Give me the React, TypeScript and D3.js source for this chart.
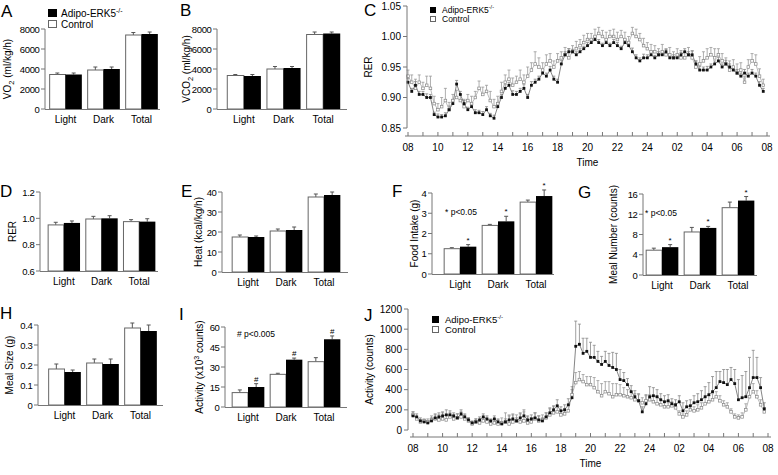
import React from "react";
import * as d3 from "d3";

const FONT = "'Liberation Sans', Arial, sans-serif";
const AXIS = "#777";

const GROUPS = ["Light", "Dark", "Total"];

// A: VO2
const vo2Ctrl = [3450, 3900, 7400];
const vo2Ko = [3450, 4000, 7500];
const vo2CtrlErr = [150, 300, 250];
const vo2KoErr = [150, 200, 200];
// B: VCO2
const vco2Ctrl = [3350, 4000, 7450];
const vco2Ko = [3300, 4100, 7550];
const vco2CtrlErr = [100, 250, 250];
const vco2KoErr = [150, 150, 150];
// D: RER
const rerBarCtrl = [0.95, 0.995, 0.975];
const rerBarKo = [0.965, 1.0, 0.975];
const rerBarCtrlErr = [0.02, 0.02, 0.015];
const rerBarKoErr = [0.015, 0.02, 0.022];
// E: heat
const heatCtrl = [17.5, 20.5, 37.5];
const heatKo = [17.5, 21, 38.5];
const heatCtrlErr = [1, 1, 1.5];
const heatKoErr = [0.5, 1.5, 1.5];
// F: food intake
const foodCtrl = [1.25, 2.4, 3.55];
const foodKo = [1.35, 2.6, 3.85];
const foodCtrlErr = [0.05, 0.05, 0.1];
const foodKoErr = [0.1, 0.25, 0.3];
// G: meal number
const mealNCtrl = [4.9, 8.5, 13.3];
const mealNKo = [5.5, 9.3, 14.7];
const mealNCtrlErr = [0.4, 0.9, 1.1];
const mealNKoErr = [0.5, 0.3, 0.8];
// H: meal size
const mealSCtrl = [0.18, 0.21, 0.385];
const mealSKo = [0.165, 0.205, 0.37];
const mealSCtrlErr = [0.025, 0.02, 0.025];
const mealSKoErr = [0.01, 0.025, 0.03];
// I: activity totals (x10^3)
const actBarCtrl = [10.8, 24.5, 34];
const actBarKo = [15, 35.5, 50.8];
const actBarCtrlErr = [2, 0.8, 3];
const actBarKoErr = [2.5, 1.2, 2.5];

// time course, 15 min bins from 08:00
const TIME_LABELS = ["08", "10", "12", "14", "16", "18", "20", "22", "24", "02", "04", "06", "08"];

const rerKo = [
  0.925, 0.91, 0.92, 0.905, 0.905, 0.9, 0.9, 0.872, 0.868, 0.868, 0.87, 0.88,
  0.89, 0.922, 0.905, 0.89, 0.88, 0.885, 0.875, 0.875, 0.872, 0.88, 0.87, 0.866,
  0.885, 0.9, 0.915, 0.92, 0.905, 0.905, 0.91, 0.915, 0.9, 0.92, 0.925, 0.93,
  0.94, 0.935, 0.945, 0.93, 0.925, 0.955, 0.97, 0.975, 0.975, 0.97, 0.975, 0.98,
  0.985, 0.99, 0.995, 0.99, 0.985, 0.99, 0.985, 0.99, 0.985, 0.98, 0.99, 0.985,
  0.975, 0.965, 0.96, 0.965, 0.965, 0.97, 0.965, 0.97, 0.97, 0.975, 0.965, 0.965,
  0.965, 0.97, 0.975, 0.97, 0.97, 0.955, 0.945, 0.945, 0.945, 0.95, 0.955, 0.96,
  0.95, 0.955, 0.95, 0.945, 0.94, 0.935, 0.94, 0.935, 0.94, 0.935, 0.92, 0.91,
];
const rerKoErr = [
  0.006, 0.005, 0.006, 0.005, 0.005, 0.006, 0.005, 0.004, 0.005, 0.004, 0.005, 0.006,
  0.005, 0.006, 0.005, 0.005, 0.004, 0.005, 0.005, 0.004, 0.005, 0.005, 0.004, 0.005,
  0.006, 0.005, 0.006, 0.005, 0.006, 0.005, 0.005, 0.006, 0.005, 0.006, 0.005, 0.005,
  0.006, 0.005, 0.006, 0.005, 0.005, 0.006, 0.005, 0.005, 0.004, 0.005, 0.005, 0.004,
  0.005, 0.004, 0.005, 0.005, 0.004, 0.005, 0.004, 0.005, 0.005, 0.004, 0.005, 0.005,
  0.006, 0.005, 0.005, 0.006, 0.005, 0.005, 0.004, 0.005, 0.005, 0.004, 0.005, 0.005,
  0.005, 0.004, 0.005, 0.005, 0.006, 0.005, 0.006, 0.005, 0.006, 0.005, 0.005, 0.006,
  0.005, 0.006, 0.005, 0.005, 0.006, 0.005, 0.006, 0.005, 0.006, 0.005, 0.006, 0.005,
];
const rerCtrl = [
  0.935, 0.925, 0.915, 0.925, 0.915, 0.92, 0.915, 0.89, 0.88, 0.885, 0.895, 0.88,
  0.895, 0.9, 0.895, 0.885, 0.895, 0.89, 0.9, 0.915, 0.905, 0.91, 0.895, 0.885,
  0.89, 0.91, 0.925, 0.93, 0.92, 0.925, 0.93, 0.925, 0.935, 0.945, 0.955, 0.95,
  0.945, 0.955, 0.96, 0.95, 0.96, 0.965, 0.97, 0.965, 0.975, 0.98, 0.985, 0.99,
  0.995, 0.995, 1.0, 1.005, 1.0, 0.995, 1.0, 1.0, 0.995, 1.0, 0.995, 0.99,
  1.005, 1.0, 0.995, 0.985, 0.98, 0.975, 0.975, 0.97, 0.975, 0.97, 0.97, 0.965,
  0.97, 0.965, 0.965, 0.97, 0.965, 0.95, 0.955, 0.96, 0.965, 0.97, 0.965, 0.97,
  0.96, 0.955, 0.945, 0.95, 0.94, 0.945, 0.925, 0.95, 0.96, 0.955, 0.935, 0.92,
];
const rerCtrlErr = [
  0.01, 0.012, 0.015, 0.012, 0.01, 0.015, 0.02, 0.012, 0.01, 0.015, 0.02, 0.012,
  0.01, 0.012, 0.01, 0.012, 0.01, 0.012, 0.01, 0.012, 0.012, 0.01, 0.015, 0.012,
  0.012, 0.015, 0.012, 0.015, 0.012, 0.01, 0.015, 0.012, 0.015, 0.012, 0.02, 0.015,
  0.012, 0.015, 0.012, 0.01, 0.012, 0.01, 0.012, 0.015, 0.01, 0.012, 0.01, 0.012,
  0.01, 0.01, 0.012, 0.01, 0.01, 0.012, 0.01, 0.012, 0.012, 0.01, 0.012, 0.01,
  0.01, 0.012, 0.01, 0.012, 0.01, 0.012, 0.01, 0.01, 0.012, 0.01, 0.012, 0.01,
  0.01, 0.012, 0.01, 0.012, 0.012, 0.01, 0.012, 0.015, 0.015, 0.012, 0.015, 0.01,
  0.012, 0.01, 0.015, 0.012, 0.015, 0.012, 0.01, 0.012, 0.012, 0.015, 0.012, 0.01,
];

const actKo = [
  140, 130, 90, 80, 70, 90, 120, 130, 140, 150, 150, 140,
  120, 160, 130, 100, 70, 80, 100, 130, 110, 90, 110, 80,
  60, 80, 100, 110, 90, 120, 140, 100, 110, 120, 100, 90,
  130, 170, 200, 240, 190, 200, 250, 320, 830, 850, 760, 780,
  720, 720, 680, 650, 680, 640, 620, 600, 500, 490, 450, 380,
  330, 290, 180, 260, 330, 340, 330, 300, 280, 290, 260, 250,
  280, 190, 230, 240, 270, 280, 300, 330, 350, 380, 420, 480,
  470, 450, 500, 460, 300, 320, 330, 420, 520, 520, 420, 210,
];
const actKoErr = [
  40, 30, 30, 20, 20, 30, 40, 40, 40, 50, 40, 30,
  40, 40, 30, 20, 20, 30, 30, 30, 30, 20, 30, 30,
  20, 30, 40, 40, 30, 50, 60, 40, 40, 50, 40, 30,
  40, 50, 40, 60, 40, 50, 60, 80, 250, 200, 150, 130,
  150, 120, 100, 80, 100, 120, 150, 160, 100, 80, 60, 60,
  60, 70, 50, 90, 100, 80, 70, 60, 60, 60, 50, 50,
  60, 80, 60, 60, 70, 80, 90, 100, 120, 150, 160, 100,
  130, 150, 120, 140, 200, 220, 250, 300, 270, 200, 100, 60,
];
const actCtrl = [
  150, 110, 80, 90, 80, 100, 110, 100, 110, 100, 130, 110,
  120, 130, 110, 90, 60, 80, 70, 90, 80, 60, 70, 60,
  70, 80, 60, 80, 90, 80, 90, 70, 80, 110, 90, 100,
  120, 150, 170, 180, 150, 160, 190, 350, 470, 500, 480, 450,
  450, 420, 380, 340, 380, 360, 330, 350, 350, 340, 330, 320,
  300, 290, 270, 290, 300, 280, 260, 250, 230, 230, 240, 220,
  160, 130, 150, 200, 190, 200, 220, 260, 280, 300, 330, 290,
  250, 230, 180, 130, 120, 130, 200, 330, 380, 330, 250, 180,
];
const actCtrlErr = [
  30, 20, 20, 20, 30, 40, 40, 50, 60, 50, 40, 40,
  40, 50, 40, 30, 20, 30, 30, 30, 30, 30, 40, 40,
  50, 90, 90, 80, 60, 80, 90, 60, 40, 60, 50, 50,
  50, 60, 60, 60, 40, 50, 60, 80, 100, 80, 70, 80,
  80, 100, 110, 120, 100, 120, 130, 110, 100, 80, 70, 60,
  60, 60, 50, 50, 50, 60, 60, 50, 50, 40, 40, 40,
  30, 30, 40, 40, 40, 50, 50, 60, 60, 60, 50, 50,
  40, 40, 30, 30, 30, 40, 60, 80, 80, 60, 50, 40,
];

type BarProps = {
  letter: string;
  lx: number;
  ly: number;
  axisX: number;
  right: number;
  yBottom: number;
  yTop: number;
  domain: [number, number];
  ticks: number[];
  fmt: (v: number) => string;
  gx: [number, number];
  ctrl: number[];
  ko: number[];
  ctrlErr: number[];
  koErr: number[];
  label: React.ReactNode;
  labelX: number;
  mark?: string;
  note?: { text: string; x: number; y: number };
};

function BarPanel(p: BarProps) {
  const y = d3.scaleLinear().domain(p.domain).range([p.yBottom, p.yTop]);
  const x = d3.scaleBand().domain(GROUPS).range(p.gx).paddingInner(0.14).paddingOuter(0.07);
  const bw = x.bandwidth() / 2;
  const midY = (p.yBottom + p.yTop) / 2;
  const err = (cx: number, v: number, e: number, key: string) => (
    <g key={key} stroke="#555" strokeWidth={1}>
      <line x1={cx} x2={cx} y1={y(v)} y2={y(v + e)} />
      <line x1={cx - 2} x2={cx + 2} y1={y(v + e)} y2={y(v + e)} />
    </g>
  );
  return (
    <g fontFamily={FONT}>
      <text x={p.lx} y={p.ly} fontSize={17}>{p.letter}</text>
      {GROUPS.map((g, i) => {
        const x0 = x(g)!;
        return (
          <g key={g}>
            {err(x0 + bw / 2, p.ctrl[i], p.ctrlErr[i], "ce")}
            {err(x0 + bw * 1.5, p.ko[i], p.koErr[i], "ke")}
            <rect x={x0 + 0.5} y={y(p.ctrl[i])} width={bw - 0.5} height={p.yBottom - y(p.ctrl[i])}
              fill="#fff" stroke="#666" strokeWidth={1} />
            <rect x={x0 + bw} y={y(p.ko[i])} width={bw} height={p.yBottom - y(p.ko[i])} fill="#000" />
            {p.mark && (
              <text x={x0 + bw * 1.5} y={y(p.ko[i] + p.koErr[i]) - 2} fontSize={8} textAnchor="middle">
                {p.mark}
              </text>
            )}
            <text x={x0 + bw} y={p.yBottom + 14} fontSize={10} textAnchor="middle">{g}</text>
          </g>
        );
      })}
      <line x1={p.axisX} x2={p.axisX} y1={p.yBottom} y2={p.yTop} stroke={AXIS} />
      <line x1={p.axisX} x2={p.right} y1={p.yBottom + 0.5} y2={p.yBottom + 0.5} stroke={AXIS} />
      {p.ticks.map((t) => (
        <g key={t}>
          <line x1={p.axisX - 4} x2={p.axisX} y1={y(t)} y2={y(t)} stroke={AXIS} />
          <text x={p.axisX - 5.5} y={y(t) + 3.5} fontSize={9.5} letterSpacing={-0.35} textAnchor="end">
            {p.fmt(t)}
          </text>
        </g>
      ))}
      <text transform={`translate(${p.labelX},${midY}) rotate(-90)`} fontSize={10} textAnchor="middle">
        {p.label}
      </text>
      {p.note && <text x={p.note.x} y={p.note.y} fontSize={8.5}>{p.note.text}</text>}
    </g>
  );
}

type TimeProps = {
  letter: string;
  lx: number;
  ly: number;
  axisX: number;
  x0: number;
  x1: number;
  yBottom: number;
  yTop: number;
  xAxisY: number;
  domain: [number, number];
  ticks: number[];
  fmt: (v: number) => string;
  ko: number[];
  koErr: number[];
  ctrl: number[];
  ctrlErr: number[];
  label: string;
  labelX: number;
  legend: { x: number; y: number; size: number; font: number };
};

function TimePanel(p: TimeProps) {
  const x = d3.scaleLinear().domain([0, 24]).range([p.x0, p.x1]);
  const y = d3.scaleLinear().domain(p.domain).range([p.yBottom, p.yTop]);
  const hrs = p.ctrl.map((_, i) => i * 0.25);
  const line = d3.line<number>().x((_, i) => x(hrs[i])).y((d) => y(d));
  const hours = d3.range(0, 25);
  const lg = p.legend;
  const errs = (vals: number[], es: number[], color: string) =>
    vals.map((v, i) => (
      <g key={i} stroke={color} strokeWidth={0.8}>
        <line x1={x(hrs[i])} x2={x(hrs[i])} y1={y(v)} y2={y(v + es[i])} />
        <line x1={x(hrs[i]) - 1.5} x2={x(hrs[i]) + 1.5} y1={y(v + es[i])} y2={y(v + es[i])} />
      </g>
    ));
  return (
    <g fontFamily={FONT}>
      <text x={p.lx} y={p.ly} fontSize={17}>{p.letter}</text>
      {errs(p.ctrl, p.ctrlErr, "#999")}
      {errs(p.ko, p.koErr, "#888")}
      <path d={line(p.ctrl)!} fill="none" stroke="#aaa" strokeWidth={0.8} />
      <path d={line(p.ko)!} fill="none" stroke="#666" strokeWidth={0.8} />
      {p.ctrl.map((v, i) => (
        <rect key={i} x={x(hrs[i]) - 1.3} y={y(v) - 1.3} width={2.6} height={2.6} fill="#fff" stroke="#888" strokeWidth={0.7} />
      ))}
      {p.ko.map((v, i) => (
        <rect key={i} x={x(hrs[i]) - 1.4} y={y(v) - 1.4} width={2.8} height={2.8} fill="#111" />
      ))}
      <line x1={p.axisX} x2={p.axisX} y1={y(p.domain[0])} y2={y(p.domain[1])} stroke={AXIS} />
      {p.ticks.map((t) => (
        <g key={t}>
          <line x1={p.axisX - 4} x2={p.axisX} y1={y(t)} y2={y(t)} stroke={AXIS} />
          <text x={p.axisX - 6} y={y(t) + 3.5} fontSize={10} textAnchor="end">{p.fmt(t)}</text>
        </g>
      ))}
      <line x1={x(0) - 3} x2={x(24) + 3} y1={p.xAxisY} y2={p.xAxisY} stroke={AXIS} />
      {hours.map((h) => (
        <line key={h} x1={x(h)} x2={x(h)} y1={p.xAxisY - 4} y2={p.xAxisY} stroke={AXIS} />
      ))}
      {TIME_LABELS.map((s, i) => (
        <text key={i} x={x(i * 2)} y={p.xAxisY + 15} fontSize={10} textAnchor="middle">{s}</text>
      ))}
      <text x={(p.x0 + p.x1) / 2} y={p.xAxisY + 30} fontSize={10} textAnchor="middle">Time</text>
      <text transform={`translate(${p.labelX},${(y(p.domain[0]) + y(p.domain[1])) / 2}) rotate(-90)`}
        fontSize={10} textAnchor="middle">{p.label}</text>
      <rect x={lg.x} y={lg.y} width={lg.size} height={lg.size} fill="#000" />
      <text x={lg.x + lg.size + 6} y={lg.y + lg.size} fontSize={lg.font}>
        Adipo-ERK5<tspan fontSize={lg.font * 0.65} dy={-4}>-/-</tspan>
      </text>
      <rect x={lg.x + 0.5} y={lg.y + lg.size + 3.5} width={lg.size - 1} height={lg.size - 1} fill="#fff" stroke="#666" />
      <text x={lg.x + lg.size + 6} y={lg.y + lg.size * 2 + 3} fontSize={lg.font}>Control</text>
    </g>
  );
}

const f0 = (v: number) => d3.format("d")(v);
const f1 = (v: number) => d3.format(".1f")(v);
const f2 = (v: number) => d3.format(".2f")(v);

export default function App() {
  return (
    <div style={{ position: "absolute", left: 0, top: 0 }}>
      <svg width={778} height={475} style={{ display: "block", background: "#fff" }}>
        <BarPanel letter="A" lx={1} ly={17} axisX={45} right={160} yBottom={109} yTop={29}
          domain={[0, 8000]} ticks={[0, 2000, 4000, 6000, 8000]} fmt={f0} gx={[46.5, 160.5]}
          ctrl={vo2Ctrl} ko={vo2Ko} ctrlErr={vo2CtrlErr} koErr={vo2KoErr} labelX={11}
          label={<>VO<tspan fontSize={7.5} dy={3}>2</tspan><tspan dy={-3}> (ml/kg/h)</tspan></>} />
        <g fontFamily={FONT}>
          <rect x={48} y={9} width={9} height={8} fill="#000" />
          <text x={61} y={17} fontSize={10}>Adipo-ERK5<tspan fontSize={7} dy={-4}>-/-</tspan></text>
          <rect x={48.5} y={20.5} width={8} height={7} fill="#fff" stroke="#666" />
          <text x={61} y={28} fontSize={10}>Control</text>
        </g>
        <BarPanel letter="B" lx={180} ly={16} axisX={217} right={347} yBottom={109} yTop={29}
          domain={[0, 8000]} ticks={[0, 2000, 4000, 6000, 8000]} fmt={f0} gx={[224, 343]}
          ctrl={vco2Ctrl} ko={vco2Ko} ctrlErr={vco2CtrlErr} koErr={vco2KoErr} labelX={190}
          label={<>VCO<tspan fontSize={7.5} dy={3}>2</tspan><tspan dy={-3}> (ml/kg/h)</tspan></>} />
        <TimePanel letter="C" lx={364} ly={16} axisX={407} x0={408} x1={767} yBottom={128} yTop={6}
          xAxisY={136} domain={[0.85, 1.05]} ticks={[0.85, 0.9, 0.95, 1.0, 1.05]} fmt={f2}
          ko={rerKo} koErr={rerKoErr} ctrl={rerCtrl} ctrlErr={rerCtrlErr} label="RER" labelX={372}
          legend={{ x: 430, y: 7, size: 6, font: 8.5 }} />
        <BarPanel letter="D" lx={0} ly={197} axisX={40} right={158} yBottom={271} yTop={192}
          domain={[0.6, 1.2]} ticks={[0.6, 0.8, 1.0, 1.2]} fmt={f1} gx={[45, 158]}
          ctrl={rerBarCtrl} ko={rerBarKo} ctrlErr={rerBarCtrlErr} koErr={rerBarKoErr} labelX={16}
          label="RER" />
        <BarPanel letter="E" lx={181} ly={197} axisX={222} right={348} yBottom={272} yTop={192}
          domain={[0, 40]} ticks={[0, 10, 20, 30, 40]} fmt={f0} gx={[229, 343]}
          ctrl={heatCtrl} ko={heatKo} ctrlErr={heatCtrlErr} koErr={heatKoErr} labelX={202}
          label="Heat (kcal/kg/h)" />
        <BarPanel letter="F" lx={392} ly={197} axisX={432} right={554} yBottom={274} yTop={193}
          domain={[0, 4]} ticks={[0, 1, 2, 3, 4]} fmt={f0} gx={[441, 555]}
          ctrl={foodCtrl} ko={foodKo} ctrlErr={foodCtrlErr} koErr={foodKoErr} labelX={418}
          label="Food Intake (g)" mark="*" note={{ text: "* p<0.05", x: 445, y: 215 }} />
        <BarPanel letter="G" lx={578} ly={198} axisX={643} right={757} yBottom={275} yTop={194}
          domain={[0, 16]} ticks={[0, 4, 8, 12, 16]} fmt={f0} gx={[643, 757]}
          ctrl={mealNCtrl} ko={mealNKo} ctrlErr={mealNCtrlErr} koErr={mealNKoErr} labelX={617}
          label="Meal Number (counts)" mark="*" note={{ text: "* p<0.05", x: 645, y: 216 }} />
        <BarPanel letter="H" lx={0} ly={319} axisX={38} right={163} yBottom={405} yTop={325}
          domain={[0, 0.4]} ticks={[0, 0.1, 0.2, 0.3, 0.4]} fmt={(v) => (v === 0 ? "0" : f1(v))}
          gx={[45.5, 159.5]} ctrl={mealSCtrl} ko={mealSKo} ctrlErr={mealSCtrlErr} koErr={mealSKoErr}
          labelX={13} label="Meal Size (g)" />
        <BarPanel letter="I" lx={179} ly={320} axisX={225} right={347} yBottom={407} yTop={327}
          domain={[0, 60]} ticks={[0, 15, 30, 45, 60]} fmt={f0} gx={[229, 343]}
          ctrl={actBarCtrl} ko={actBarKo} ctrlErr={actBarCtrlErr} koErr={actBarKoErr} labelX={203}
          label={<>Activity (x10<tspan fontSize={7} dy={-4}>3</tspan><tspan dy={4}> counts)</tspan></>}
          mark="#" note={{ text: "# p<0.005", x: 237, y: 337 }} />
        <TimePanel letter="J" lx={364} ly={321} axisX={408} x0={413} x1={768} yBottom={430} yTop={309}
          xAxisY={437} domain={[0, 1200]} ticks={[0, 200, 400, 600, 800, 1000, 1200]} fmt={f0}
          ko={actKo} koErr={actKoErr} ctrl={actCtrl} ctrlErr={actCtrlErr} label="Activity (counts)"
          labelX={373} legend={{ x: 432, y: 316, size: 7, font: 9.5 }} />
      </svg>
    </div>
  );
}
